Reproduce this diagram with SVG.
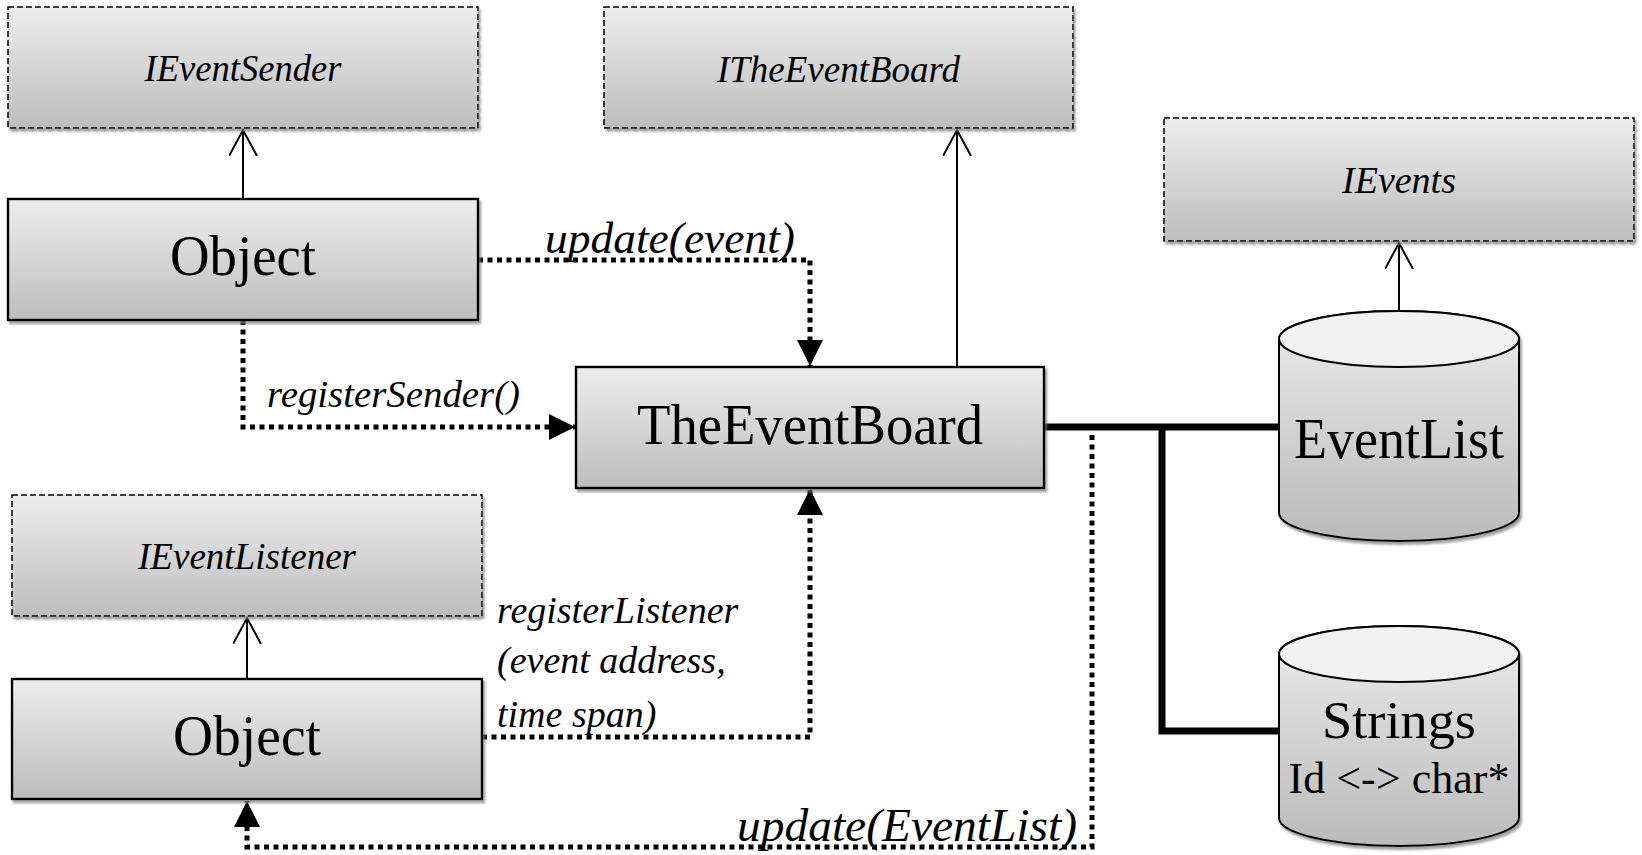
<svg xmlns="http://www.w3.org/2000/svg" width="1642" height="855" viewBox="0 0 1642 855">
  <defs>
    <linearGradient id="boxFill" x1="0" y1="0" x2="0" y2="1">
      <stop offset="0" stop-color="#ededed"/>
      <stop offset="1" stop-color="#bdbdbd"/>
    </linearGradient>
    <linearGradient id="cylFill" x1="0" y1="0" x2="0" y2="1">
      <stop offset="0" stop-color="#ececec"/>
      <stop offset="1" stop-color="#bababa"/>
    </linearGradient>
    <filter id="shadow" x="-5%" y="-5%" width="115%" height="120%">
      <feDropShadow dx="2" dy="3" stdDeviation="1" flood-color="#7a7a7a" flood-opacity="0.7"/>
    </filter>
    <marker id="solidHead" markerUnits="userSpaceOnUse" markerWidth="28" markerHeight="28" refX="26" refY="13" orient="auto">
      <path d="M0,0 L26,13 L0,26 Z" fill="#000"/>
    </marker>
    <marker id="openHead" markerUnits="userSpaceOnUse" markerWidth="30" markerHeight="30" refX="26" refY="14" orient="auto">
      <path d="M0,0 L26,14 L0,28" fill="none" stroke="#000" stroke-width="2"/>
    </marker>
  </defs>
  <style>
    .iface { fill: url(#boxFill); stroke: #000; stroke-width: 1.5; stroke-dasharray: 6 3; filter: url(#shadow); }
    .cls { fill: url(#boxFill); stroke: #000; stroke-width: 2.4; filter: url(#shadow); }
    .cyl { fill: url(#cylFill); stroke: #000; stroke-width: 2; filter: url(#shadow); }
    .cylTop { fill: #f1f1f1; stroke: #000; stroke-width: 2; }
    text { font-family: "Liberation Serif", "DejaVu Serif", "Noto Serif", serif; fill: #000; }
    .ital { font-style: italic; }
    .itext { font-size: 38px; text-anchor: middle; }
    .big { font-size: 58px; text-anchor: middle; }
    .lbl { font-size: 38px; }
    .dotted { fill: none; stroke: #000; stroke-width: 5; stroke-dasharray: 5 4.5; marker-end: url(#solidHead); }
    .inherit { fill: none; stroke: #000; stroke-width: 2; marker-end: url(#openHead); }
    .thick { fill: none; stroke: #000; stroke-width: 7; stroke-linejoin: miter; }
  </style>

  <!-- connectors -->
  <g id="connectors">
    <!-- realization arrows -->
    <line class="inherit" x1="243" y1="199" x2="243" y2="130"/>
    <line class="inherit" x1="957" y1="367" x2="957" y2="130"/>
    <line class="inherit" x1="1399" y1="311" x2="1399" y2="243"/>
    <line class="inherit" x1="247" y1="679" x2="247" y2="618"/>
    <!-- storage links -->
    <polyline class="thick" points="1044,427 1279,427"/>
    <polyline class="thick" points="1162,427 1162,731 1279,731"/>
    <!-- messages -->
    <polyline class="dotted" points="478,260 810,260 810,366"/>
    <polyline class="dotted" points="243,320 243,427 575,427"/>
    <polyline class="dotted" points="482,737 810,737 810,489"/>
    <polyline class="dotted" points="1092,435 1092,847 247,847 247,801"/>
    <!-- message labels -->
    <text class="ital" x="545" y="253" font-family="Liberation Serif, DejaVu Serif, serif" font-size="44" textLength="250" lengthAdjust="spacingAndGlyphs">update(event)</text>
    <text class="ital lbl" x="267" y="407" font-family="Liberation Serif, DejaVu Serif, serif" textLength="253" lengthAdjust="spacingAndGlyphs">registerSender()</text>
    <text class="ital lbl" x="497" y="623" font-family="Liberation Serif, DejaVu Serif, serif">registerListener</text>
    <text class="ital lbl" x="497" y="673" font-family="Liberation Serif, DejaVu Serif, serif">(event address,</text>
    <text class="ital lbl" x="497" y="727" font-family="Liberation Serif, DejaVu Serif, serif">time span)</text>
    <text class="ital" x="737" y="841" font-family="Liberation Serif, DejaVu Serif, serif" font-size="46" textLength="340" lengthAdjust="spacingAndGlyphs">update(EventList)</text>
  </g>

  <g id="IEventSender">
    <rect class="iface" x="8" y="7" width="470" height="121"/>
    <text class="ital itext" x="243" y="81" font-family="Liberation Serif, DejaVu Serif, serif" textLength="197" lengthAdjust="spacingAndGlyphs">IEventSender</text>
  </g>

  <g id="ITheEventBoard">
    <rect class="iface" x="604" y="7" width="469" height="121"/>
    <text class="ital itext" x="838.5" y="82" font-family="Liberation Serif, DejaVu Serif, serif" textLength="243" lengthAdjust="spacingAndGlyphs">ITheEventBoard</text>
  </g>

  <g id="IEvents">
    <rect class="iface" x="1164" y="118" width="470" height="123"/>
    <text class="ital itext" x="1399" y="193" font-family="Liberation Serif, DejaVu Serif, serif">IEvents</text>
  </g>

  <g id="ObjectSender">
    <rect class="cls" x="8" y="199" width="470" height="121"/>
    <text class="big" x="243" y="275" font-family="Liberation Serif, DejaVu Serif, serif" textLength="146" lengthAdjust="spacingAndGlyphs">Object</text>
  </g>

  <g id="TheEventBoard">
    <rect class="cls" x="576" y="367" width="468" height="121"/>
    <text class="big" x="810" y="444" font-family="Liberation Serif, DejaVu Serif, serif" textLength="346" lengthAdjust="spacingAndGlyphs">TheEventBoard</text>
  </g>

  <g id="IEventListener">
    <rect class="iface" x="12" y="495" width="470" height="121"/>
    <text class="ital itext" x="247" y="569" font-family="Liberation Serif, DejaVu Serif, serif" textLength="218" lengthAdjust="spacingAndGlyphs">IEventListener</text>
  </g>

  <g id="ObjectListener">
    <rect class="cls" x="12" y="679" width="470" height="120"/>
    <text class="big" x="247" y="755" font-family="Liberation Serif, DejaVu Serif, serif" textLength="148" lengthAdjust="spacingAndGlyphs">Object</text>
  </g>

  <g id="EventList">
    <path class="cyl" d="M1279,339 V513 A120,28 0 0 0 1519,513 V339 A120,28 0 0 0 1279,339 Z"/>
    <ellipse class="cylTop" cx="1399" cy="339" rx="120" ry="28"/>
    <text class="big" x="1399" y="458" font-family="Liberation Serif, DejaVu Serif, serif" font-size="57" textLength="210" lengthAdjust="spacingAndGlyphs">EventList</text>
  </g>

  <g id="Strings">
    <path class="cyl" d="M1279,654 V818 A120,28 0 0 0 1519,818 V654 A120,28 0 0 0 1279,654 Z"/>
    <ellipse class="cylTop" cx="1399" cy="654" rx="120" ry="28"/>
    <text x="1399" y="738" font-family="Liberation Serif, DejaVu Serif, serif" font-size="53" text-anchor="middle" textLength="154" lengthAdjust="spacingAndGlyphs">Strings</text>
    <text x="1399" y="793" font-family="Liberation Serif, DejaVu Serif, serif" font-size="44" text-anchor="middle" textLength="221" lengthAdjust="spacingAndGlyphs">Id &lt;-&gt; char*</text>
  </g>
</svg>
